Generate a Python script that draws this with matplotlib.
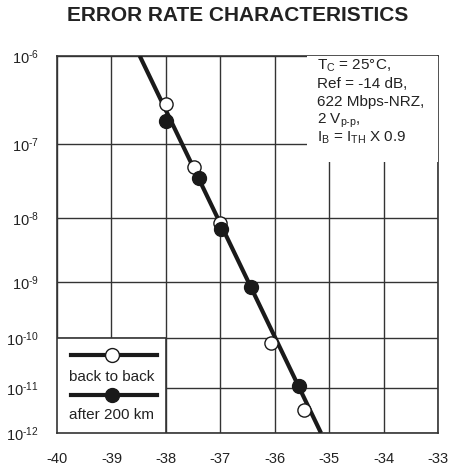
import numpy as np
import matplotlib
matplotlib.use('Agg')
import matplotlib.pyplot as plt
from matplotlib.patches import Rectangle
from matplotlib.lines import Line2D
from matplotlib.ticker import NullLocator, FuncFormatter

plt.rcParams['font.family'] = ['Liberation Sans', 'DejaVu Sans']
plt.rcParams['mathtext.fontset'] = 'custom'
plt.rcParams['mathtext.rm'] = 'Liberation Sans'
plt.rcParams['mathtext.it'] = 'Liberation Sans'
plt.rcParams['mathtext.default'] = 'regular'
plt.rcParams['axes.unicode_minus'] = False

# received power (dBm) vs bit error rate
fit_x = [-38.48, -35.15]
fit_y = [1e-6, 1e-12]
b2b_x = [-38.0, -37.48, -37.0, -36.06, -35.46]
b2b_y = [3.0e-7, 5.0e-8, 8.3e-9, 8.1e-11, 3.3e-12]
km200_x = [-38.0, -37.39, -36.99, -36.44, -35.55]
km200_y = [1.9e-7, 3.6e-8, 6.8e-9, 8.1e-10, 1.07e-11]

x_ticks = [-40, -39, -38, -37, -36, -35, -34, -33]
y_exps = [-6, -7, -8, -9, -10, -11, -12]
note_lines = [r'T$_{C}$ = 25°C,', 'Ref = -14 dB,', '622 Mbps-NRZ,',
              r'2 V$_{\text{p-p}}$,', r'I$_{B}$ = I$_{TH}$ X 0.9']
legend_labels = ['back to back', 'after 200 km']


# BER paper scale
def fwd(y):
    y = np.asarray(y, dtype=float)
    with np.errstate(all='ignore'):
        return -np.log10(-np.log10(y) - 1.2)


def inv(t):
    t = np.asarray(t, dtype=float)
    return 10.0 ** (-(10.0 ** (-t) + 1.2))


ink = '#1a1a1a'
fig = plt.figure(figsize=(4.49, 4.72), dpi=100)
ax = fig.add_axes([0.127, 0.0826, 0.8486, 0.7988])
ax.set_yscale('function', functions=(fwd, inv))
ax.set_xlim(-40, -33)
ax.set_ylim(1e-12, 1e-6)
ax.set_xticks(x_ticks)
ax.set_yticks([10.0 ** e for e in y_exps])
ax.yaxis.set_minor_locator(NullLocator())
ax.yaxis.set_major_formatter(FuncFormatter(
    lambda v, p: r'$\mathregular{10^{\text{-}%d}}$' % abs(round(np.log10(v)))))
ax.tick_params(axis='x', length=0, pad=14, labelsize=10.5, colors='#222222')
ax.tick_params(axis='y', length=0, pad=13, labelsize=10.5, colors='#222222')
ax.grid(True, color='#333333', lw=1.0)
ax.set_axisbelow(True)
for s in ax.spines.values():
    s.set_color('#333333')
    s.set_linewidth(1.2)

ax.plot(fit_x, fit_y, color=ink, lw=3.0, zorder=4, solid_capstyle='butt')
ax.plot(b2b_x, b2b_y, 'o', ms=9.5, mfc='white', mec=ink, mew=1.0, zorder=5)
ax.plot(km200_x, km200_y, 'o', ms=10, mfc=ink, mec=ink, zorder=6)

# note box top right
ax.add_patch(Rectangle((0.656, 0.719), 0.344, 0.281, transform=ax.transAxes,
                       facecolor='white', edgecolor='none', zorder=3))
for i, line in enumerate(note_lines):
    ax.text(0.682, 0.963 - i * 0.0475, line, transform=ax.transAxes,
            fontsize=11, color='#222222', va='baseline', ha='left', zorder=7)

# legend box bottom left
ax.add_patch(Rectangle((0, 0), 0.286, 0.252, transform=ax.transAxes,
                       facecolor='white', edgecolor='#333333', lw=1.2, zorder=3))
for ly, ty, face, lab in [(0.207, 0.149, 'white', legend_labels[0]),
                          (0.101, 0.048, ink, legend_labels[1])]:
    ax.add_line(Line2D([0.037, 0.262], [ly, ly], transform=ax.transAxes,
                       color=ink, lw=3.0, zorder=4))
    ax.add_line(Line2D([0.144], [ly], transform=ax.transAxes, marker='o',
                       ms=10, mfc=face, mec=ink, mew=1.0, zorder=5))
    ax.text(0.143, ty, lab, transform=ax.transAxes, fontsize=11,
            color='#222222', ha='center', va='center', zorder=6)

fig.text(0.53, 0.968, 'ERROR RATE CHARACTERISTICS', ha='center', va='center',
         fontsize=15, fontweight='bold', color='#222222')

fig.savefig('out.png', dpi=100)
